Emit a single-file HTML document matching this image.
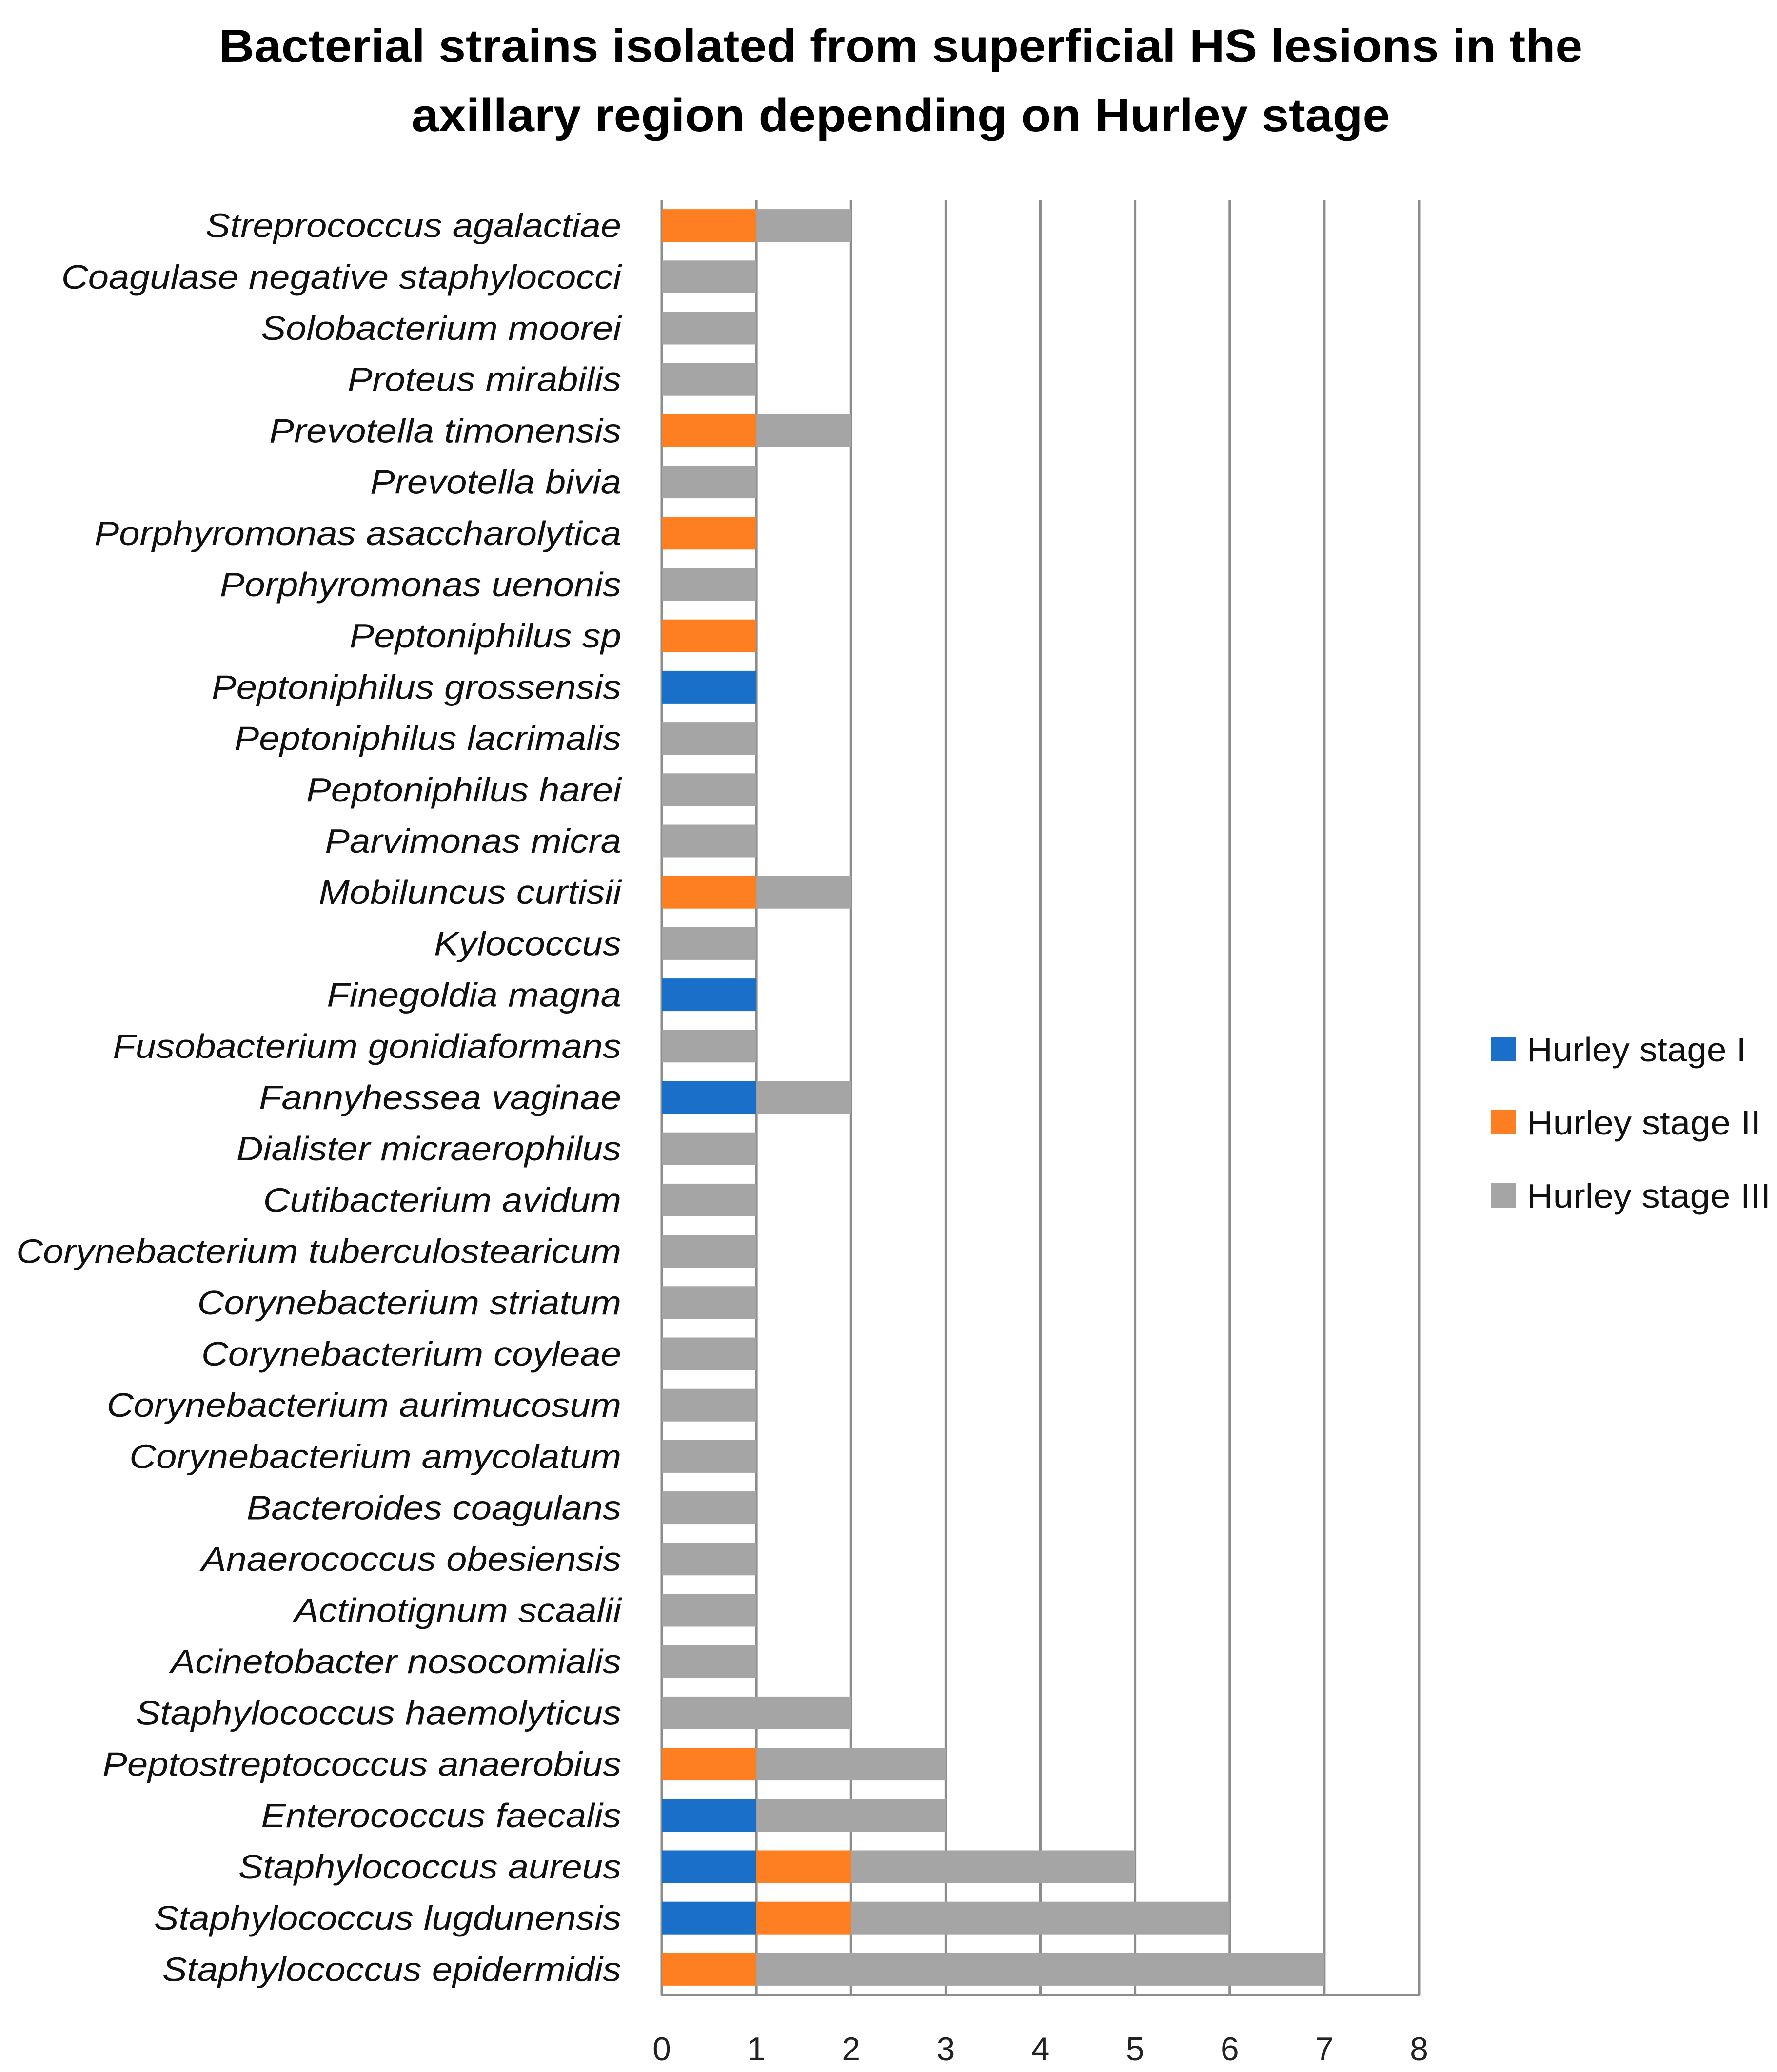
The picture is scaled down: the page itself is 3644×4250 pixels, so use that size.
<!DOCTYPE html>
<html><head><meta charset="utf-8"><style>
html,body{margin:0;padding:0;background:#fff;}
svg{display:block;font-family:"Liberation Sans",sans-serif;}
</style></head><body>
<svg id="chart" width="3644" height="4250" viewBox="0 0 3644 4250">
<text x="1847" y="127" font-size="96" font-weight="bold" text-anchor="middle" textLength="2796" lengthAdjust="spacingAndGlyphs">Bacterial strains isolated from superficial HS lesions in the</text>
<text x="1847" y="269" font-size="96" font-weight="bold" text-anchor="middle" textLength="2007" lengthAdjust="spacingAndGlyphs">axillary region depending on Hurley stage</text>
<g id="grid"></g>
<g id="bars"></g>
<g id="labels" transform="translate(1274,0) scale(1.085,1) translate(-1274,0)"></g>
<g id="ticks"></g>
<g id="legend"></g>
</svg>
<script>
const categories = ["Streprococcus agalactiae","Coagulase negative staphylococci","Solobacterium moorei","Proteus mirabilis","Prevotella timonensis","Prevotella bivia","Porphyromonas asaccharolytica","Porphyromonas uenonis","Peptoniphilus sp","Peptoniphilus grossensis","Peptoniphilus lacrimalis","Peptoniphilus harei","Parvimonas micra","Mobiluncus curtisii","Kylococcus","Finegoldia magna","Fusobacterium gonidiaformans","Fannyhessea vaginae","Dialister micraerophilus","Cutibacterium avidum","Corynebacterium tuberculostearicum","Corynebacterium striatum","Corynebacterium coyleae","Corynebacterium aurimucosum","Corynebacterium amycolatum","Bacteroides coagulans","Anaerococcus obesiensis","Actinotignum scaalii","Acinetobacter nosocomialis","Staphylococcus haemolyticus","Peptostreptococcus anaerobius","Enterococcus faecalis","Staphylococcus aureus","Staphylococcus lugdunensis","Staphylococcus epidermidis"];
const stage1 = [0,0,0,0,0,0,0,0,0,1,0,0,0,0,0,1,0,1,0,0,0,0,0,0,0,0,0,0,0,0,0,1,1,1,0];
const stage2 = [1,0,0,0,1,0,1,0,1,0,0,0,0,1,0,0,0,0,0,0,0,0,0,0,0,0,0,0,0,0,1,0,1,1,1];
const stage3 = [1,1,1,1,1,1,0,1,0,0,1,1,1,1,1,0,1,1,1,1,1,1,1,1,1,1,1,1,1,2,2,2,3,4,6];
const xTicks = [0,1,2,3,4,5,6,7,8];
const seriesNames = ["Hurley stage I","Hurley stage II","Hurley stage III"];
</script>
<script>
const NS="http://www.w3.org/2000/svg";
const X0=1357, X1=2910, XMAX=8, Y0=410, Y1=4092;
const colors=["#1a6fc9","#fe7f22","#a5a5a5"];
const band=(Y1-Y0)/categories.length;
const barH=67;
function xs(v){return X0+(X1-X0)*v/XMAX;}
function yc(i){return Y0+band*(i+0.5);}
function mk(tag,attrs,parent){const e=document.createElementNS(NS,tag);for(const k in attrs)e.setAttribute(k,attrs[k]);parent.appendChild(e);return e;}
const grid=document.getElementById('grid'),bars=document.getElementById('bars'),labels=document.getElementById('labels'),ticks=document.getElementById('ticks'),legend=document.getElementById('legend');
xTicks.forEach(t=>{
  const l=mk('line',{x1:xs(t),x2:xs(t),y1:Y0,y2:Y1,stroke:'#8c8c8c','stroke-width':5},grid);
  
  
  const tx=mk('text',{x:xs(t),y:4226,'font-size':68,'text-anchor':'middle',fill:'#222'},ticks);
  tx.textContent=t;
  
  
});
const ax=mk('line',{x1:X0-2,x2:X1+2,y1:Y1,y2:Y1,stroke:'#8c8c8c','stroke-width':6},grid);


const series=[stage1,stage2,stage3];
categories.forEach((c,i)=>{
  let acc=0;
  series.forEach((s,k)=>{
    const v=s[i];
    if(v>0){
      const r=mk('rect',{x:xs(acc),y:yc(i)-barH/2,width:xs(acc+v)-xs(acc),height:barH,fill:colors[k]},bars);
      
      
    }
    acc+=v;
  });
  const t=mk('text',{x:1274,y:yc(i)+24,'font-size':70,'font-style':'italic','text-anchor':'end',fill:'#111'},labels);
  t.textContent=c;
  
  
});
seriesNames.forEach((n,k)=>{
  const y=2127+k*150;
  const r=mk('rect',{x:3058,y:y,width:50,height:50,fill:colors[k]},legend);
  
  
  const t=mk('text',{x:3131,y:y+50,'font-size':70,fill:'#111',textLength:[450,480,500][k],lengthAdjust:'spacingAndGlyphs'},legend);
  t.textContent=n;
  
  
});
</script>
</body></html>
